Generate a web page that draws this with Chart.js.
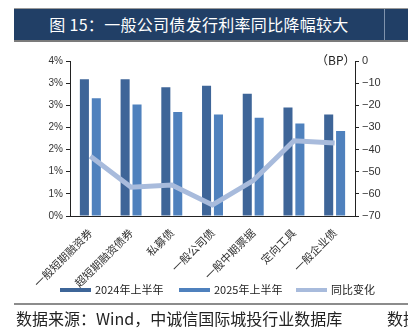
<!DOCTYPE html>
<html>
<head>
<meta charset="utf-8">
<script src="https://cdn.jsdelivr.net/npm/chart.js@4.4.0/dist/chart.umd.min.js"></script>
<style>
  html, body { margin: 0; padding: 0; background: #fff; width: 408px; height: 334px; overflow: hidden; position: relative;
    font-family: "Noto Sans CJK SC", "Noto Sans", sans-serif; }
  #banner { position: absolute; left: 14px; top: 8px; width: 394px; height: 31px; background: #213f66;
    border-top: 1px solid #9a9a9a; border-bottom: 2px solid #7b7b7b; }
  #banner .title { position: absolute; left: 0; top: 0; width: 370px; height: 31px; line-height: 31px;
    text-align: center; color: #fff; font-size: 16px; letter-spacing: 0.3px; }
  #banner .sep { position: absolute; left: 370px; top: 0; width: 1px; height: 31px; background: #7f93ad; }
  #wrap { position: absolute; left: 0; top: 44px; width: 408px; height: 256px; }
  #unit { position: absolute; left: 316px; top: 52px; font-size: 12px; color: #222; line-height: 16px; white-space: nowrap; }
  #legend { position: absolute; left: 0; top: 281px; width: 408px; height: 16px; }
  #legend .item { position: absolute; top: 0; height: 16px; font-size: 11px; line-height: 16px; color: #222; white-space: nowrap; }
  #legend .sw { display: inline-block; width: 31px; height: 4px; vertical-align: middle; margin-right: 4px; position: relative; top: -1px; }
  #rule { position: absolute; left: 14px; top: 303px; width: 394px; height: 2px; background: #8c8c8c; }
  .src { position: absolute; top: 308px; font-size: 16px; color: #222; line-height: 20px; white-space: nowrap; }
</style>
</head>
<body>
<div id="banner"><div class="title">图 15：一般公司债发行利率同比降幅较大</div><div class="sep"></div></div>
<div id="wrap"><canvas id="c"></canvas></div>
<div id="unit">（BP）</div>
<div id="legend"></div>
<div id="rule"></div>
<div class="src" style="left:16px;">数据来源：Wind，中诚信国际城投行业数据库</div>
<div class="src" style="left:387px;">数据</div>
<script>
// Issue categories and issuance rates (%), first half of each year
const categories = ['一般短期融资券', '超短期融资债券', '私募债', '一般公司债', '一般中期票据', '定向工具', '一般企业债'];
const rate2024H1 = [3.09, 3.09, 2.91, 2.94, 2.76, 2.45, 2.29];
const rate2025H1 = [2.66, 2.52, 2.35, 2.29, 2.22, 2.09, 1.92];
// Year-on-year change, basis points
const yoyChangeBP = [-43, -57, -56, -65, -54, -36, -37];
const seriesNames = ['2024年上半年', '2025年上半年', '同比变化'];
// Left axis ticks (in %) and right axis ticks (in BP)
const leftTicks = [0, 0.5, 1, 1.5, 2, 2.5, 3, 3.5];
const rightTicks = [-70, -60, -50, -40, -30, -20, -10, 0];

const cjk = '"Noto Sans CJK SC", sans-serif';
const latin = '"Liberation Sans", Arial, sans-serif';
const seriesColors = ['#3e6598', '#4f81bd', '#a8bbdc'];

// Legend row under the chart
const legendX = [60, 179, 296];
const legendEl = document.getElementById('legend');
seriesNames.forEach((name, i) => {
  const item = document.createElement('div');
  item.className = 'item';
  item.style.left = legendX[i] + 'px';
  const sw = document.createElement('span');
  sw.className = 'sw';
  sw.style.background = seriesColors[i];
  item.appendChild(sw);
  item.appendChild(document.createTextNode(name));
  legendEl.appendChild(item);
});

new Chart(document.getElementById('c'), {
  type: 'bar',
  data: {
    labels: categories,
    datasets: [
      { label: seriesNames[0], data: rate2024H1, backgroundColor: seriesColors[0], yAxisID: 'y', order: 2,
        categoryPercentage: 0.585, barPercentage: 0.76 },
      { label: seriesNames[1], data: rate2025H1, backgroundColor: seriesColors[1], yAxisID: 'y', order: 2,
        categoryPercentage: 0.585, barPercentage: 0.76 },
      { type: 'line', label: seriesNames[2], data: yoyChangeBP, borderColor: seriesColors[2],
        backgroundColor: seriesColors[2], borderWidth: 5, pointRadius: 0, tension: 0, yAxisID: 'y1', order: 1 }
    ]
  },
  options: {
    responsive: true,
    maintainAspectRatio: false,
    animation: false,
    layout: { padding: { left: 34, right: 0, top: 17, bottom: 0 } },
    plugins: {
      tooltip: { enabled: false },
      legend: { display: false }
    },
    scales: {
      x: {
        offset: true,
        grid: { display: false },
        border: { display: true, color: '#222', width: 1 },
        ticks: { maxRotation: 45, minRotation: 45, autoSkip: false, padding: 2, color: '#333',
          font: { size: 11, family: cjk } },
        afterFit: (s) => { s.height = 84; }
      },
      y: {
        position: 'left',
        min: leftTicks[0], max: leftTicks[leftTicks.length - 1],
        afterBuildTicks: (s) => { s.ticks = leftTicks.map(v => ({ value: v })); },
        grid: { drawOnChartArea: false, drawTicks: true, tickLength: 4, tickColor: '#222' },
        border: { display: true, color: '#222', width: 1 },
        ticks: { padding: 3, color: '#333', font: { size: 10, family: latin },
          callback: (v) => Math.round(v + 1e-9) + '%' },
        afterFit: (s) => { s.width = 36; }
      },
      y1: {
        position: 'right',
        min: rightTicks[0], max: rightTicks[rightTicks.length - 1],
        afterBuildTicks: (s) => { s.ticks = rightTicks.map(v => ({ value: v })); },
        grid: { drawOnChartArea: false, drawTicks: true, tickLength: 4, tickColor: '#222' },
        border: { display: true, color: '#222', width: 1 },
        ticks: { padding: 3, color: '#333', font: { size: 11, family: latin },
          callback: (v) => (v < 0 ? '\u2212' : '') + Math.abs(v) },
        afterFit: (s) => { s.width = 53; }
      }
    }
  }
});
</script>
</body>
</html>
